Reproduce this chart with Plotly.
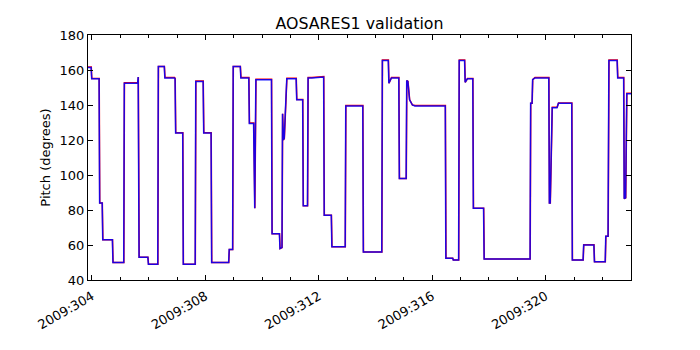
import plotly.graph_objects as go

# Day-of-year (2009) and pitch (degrees) vertices
blue_day = [303.86, 303.97, 303.99, 304.25, 304.27, 304.36, 304.38, 304.72, 304.74, 305.12,
            305.14, 305.61, 305.63, 305.66, 305.97, 305.99, 306.32, 306.34, 306.55, 306.57,
            306.91, 306.93, 306.95, 307.20, 307.22, 307.64, 307.66, 307.92, 307.94, 308.20,
            308.22, 308.82, 308.84, 308.96, 308.98, 309.23, 309.25, 309.53, 309.55, 309.70,
            309.74, 309.78, 310.33, 310.35, 310.61, 310.63, 310.70, 310.72, 310.75, 310.78,
            310.87, 311.20, 311.22, 311.43, 311.45, 311.60, 311.62, 311.75, 312.17, 312.19,
            312.44, 312.46, 312.93, 312.95, 313.55, 313.57, 314.22, 314.24, 314.45, 314.47,
            314.56, 314.82, 314.84, 315.08, 315.10, 315.14, 315.20, 315.30, 315.39, 316.46,
            316.48, 316.72, 316.74, 316.93, 316.95, 317.14, 317.16, 317.24, 317.43, 317.45,
            317.81, 317.83, 319.45, 319.47, 319.52, 319.54, 319.62, 320.11, 320.13, 320.16,
            320.23, 320.40, 320.45, 320.92, 320.94, 321.32, 321.34, 321.70, 321.72, 322.10,
            322.12, 322.20, 322.23, 322.52, 322.54, 322.75, 322.77, 322.82, 322.86, 323.05]
blue_pitch = [161.5, 161.5, 155.0, 155.0, 84.0, 84.0, 63.0, 63.0, 50.0, 50.0,
              152.5, 152.5, 156.0, 53.0, 53.0, 49.0, 49.0, 162.0, 162.0, 155.5,
              155.5, 155.0, 124.0, 124.0, 49.0, 49.0, 153.5, 153.5, 124.0, 124.0,
              50.0, 50.0, 57.5, 57.5, 162.0, 162.0, 155.5, 155.5, 129.5, 129.5,
              81.0, 154.5, 154.5, 66.5, 66.5, 58.0, 58.5, 135.0, 120.0, 121.0,
              155.0, 155.0, 143.0, 143.0, 82.5, 82.5, 155.5, 155.5, 156.0, 77.0,
              77.0, 59.0, 59.0, 139.5, 139.5, 56.0, 56.0, 165.5, 165.5, 152.5,
              155.5, 155.5, 98.0, 98.0, 154.0, 153.5, 143.0, 140.0, 139.5, 139.5,
              52.5, 52.5, 51.5, 51.5, 165.5, 165.5, 153.0, 155.0, 155.0, 81.0,
              81.0, 52.0, 52.0, 141.0, 141.0, 154.5, 155.5, 155.5, 84.0, 84.0,
              138.5, 138.5, 141.0, 141.0, 51.5, 51.5, 60.0, 60.0, 50.5, 50.5,
              65.0, 65.0, 165.5, 165.5, 155.5, 155.5, 86.5, 87.0, 146.5, 146.5]

red_day = [303.86, 303.975, 303.995, 304.255, 304.275, 304.365, 304.385, 304.725, 304.745, 305.125,
           305.145, 305.615, 305.635, 305.665, 305.975, 305.995, 306.325, 306.345, 306.555, 306.575,
           306.915, 306.935, 306.955, 307.205, 307.225, 307.645, 307.665, 307.925, 307.945, 308.205,
           308.225, 308.825, 308.845, 308.965, 308.985, 309.235, 309.255, 309.535, 309.555, 309.705,
           309.745, 309.785, 310.335, 310.355, 310.615, 310.635, 310.705, 310.725, 310.755, 310.785,
           310.875, 311.205, 311.225, 311.435, 311.455, 311.605, 311.625, 311.755, 312.175, 312.195,
           312.445, 312.465, 312.935, 312.955, 313.555, 313.575, 314.225, 314.245, 314.455, 314.475,
           314.565, 314.825, 314.845, 315.085, 315.105, 315.145, 315.205, 315.305, 315.395, 316.465,
           316.485, 316.725, 316.745, 316.935, 316.955, 317.145, 317.165, 317.245, 317.435, 317.455,
           317.815, 317.835, 319.455, 319.475, 319.525, 319.545, 319.625, 320.115, 320.135, 320.165,
           320.235, 320.405, 320.455, 320.925, 320.945, 321.325, 321.345, 321.705, 321.725, 322.105,
           322.125, 322.205, 322.235, 322.525, 322.545, 322.755, 322.775, 322.825, 322.865, 323.05]
red_pitch = [161.7, 161.7, 155.2, 155.2, 84.0, 84.0, 63.0, 63.0, 50.0, 50.0,
             152.7, 152.7, 156.0, 53.0, 53.0, 49.0, 49.0, 162.0, 162.0, 155.7,
             155.7, 155.2, 124.2, 124.2, 49.0, 49.0, 153.7, 153.7, 124.2, 124.2,
             50.0, 50.0, 57.5, 57.5, 162.0, 162.0, 155.7, 155.7, 129.7, 129.7,
             81.0, 154.7, 154.7, 66.5, 66.5, 58.0, 58.5, 135.0, 120.0, 121.0,
             155.3, 155.3, 143.2, 143.2, 82.5, 82.5, 155.7, 155.7, 156.2, 77.0,
             77.0, 59.0, 59.0, 139.7, 139.7, 56.0, 56.0, 165.7, 165.7, 152.5,
             155.7, 155.7, 98.0, 98.0, 154.0, 153.5, 143.0, 140.0, 139.7, 139.7,
             52.5, 52.5, 51.5, 51.5, 165.7, 165.7, 153.0, 155.2, 155.2, 81.0,
             81.0, 52.0, 52.0, 141.0, 141.0, 154.5, 155.7, 155.7, 84.0, 84.0,
             138.7, 138.7, 141.2, 141.2, 51.5, 51.5, 60.2, 60.2, 50.5, 50.5,
             65.0, 65.0, 165.7, 165.7, 155.7, 155.7, 86.5, 87.0, 146.7, 146.7]

x_tick_vals = [304, 308, 312, 316, 320]
x_tick_text = ["2009:304", "2009:308", "2009:312", "2009:316", "2009:320"]
y_tick_vals = [40, 60, 80, 100, 120, 140, 160, 180]

fig = go.Figure()
fig.add_trace(go.Scatter(x=red_day, y=red_pitch, mode="lines",
                         line=dict(color="#ff0000", width=1.5), showlegend=False))
fig.add_trace(go.Scatter(x=blue_day, y=blue_pitch, mode="lines", opacity=0.88,
                         line=dict(color="#0000ff", width=1.5), showlegend=False))

font = "DejaVu Sans"
fig.update_layout(
    width=700, height=350,
    margin=dict(l=88, r=69, t=35, b=70),
    paper_bgcolor="white", plot_bgcolor="white",
    font=dict(family=font, size=13, color="black"),
    title=dict(text="AOSARES1 validation", x=(88 + 631) / 2 / 700, xanchor="center",
               y=1 - 23 / 350, yanchor="middle", font=dict(family=font, size=15.8, color="black")),
)
fig.update_xaxes(
    range=[303.86, 323.01], showgrid=False, zeroline=False,
    showline=True, linecolor="black", linewidth=1, mirror="allticks",
    tickmode="array", tickvals=x_tick_vals, ticktext=x_tick_text,
    ticks="inside", ticklen=5, tickcolor="black", tickangle=-30,
    ticklabelstandoff=3,
    tickfont=dict(family=font, size=13, color="black"),
    minor=dict(dtick=1, tick0=304, ticks="inside", ticklen=3, tickcolor="black", showgrid=False),
)
fig.update_yaxes(
    range=[40, 180], showgrid=False, zeroline=False,
    showline=True, linecolor="black", linewidth=1, mirror="allticks",
    tickmode="array", tickvals=y_tick_vals,
    ticks="inside", ticklen=5, tickcolor="black",
    tickfont=dict(family=font, size=13, color="black"),
    title=dict(text="Pitch (degrees)", font=dict(family=font, size=13, color="black"), standoff=6),
)

fig.write_html("out.html")
